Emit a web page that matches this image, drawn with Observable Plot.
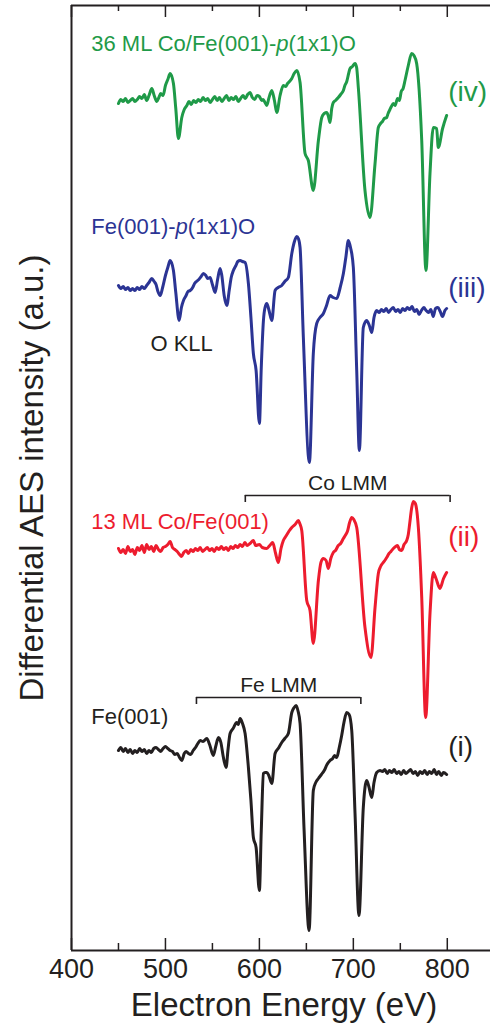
<!DOCTYPE html>
<html><head><meta charset="utf-8">
<script src="https://cdn.jsdelivr.net/npm/d3@7"></script>
<script src="https://cdn.jsdelivr.net/npm/@observablehq/plot@0.6"></script>
<style>body{margin:0;background:#fff;} #chart svg{display:block;}</style>
</head><body><div id="chart"></div>
<script>
// ---- data ----
const seriesIds = ["i", "ii", "iii", "iv"];
const seriesNames = ["Fe(001)", "13 ML Co/Fe(001)", "Fe(001)-p(1x1)O", "36 ML Co/Fe(001)-p(1x1)O"];
const seriesTags = ["(i)", "(ii)", "(iii)", "(iv)"];
const seriesOffsets = [200, 402, 663, 847]; // vertical offsets (a.u.)

// [energy (eV), dN/dE (a.u., relative to offset)]
const spectrumI = [[450,0],[452.5,3],[455,-1],[457.5,2],[460,-2],[462.5,1],[465,-3],[467.5,0],[470,-2],[472.5,2],[475,-1],[477.5,1],[480,-3],[482.5,0],[485,-2],[487.5,2],[490,3],[492.5,1],[495,-1],[497.5,2],[500,4],[502.5,2],[505,0],[507.5,-1],[510,-4],[512.5,-3],[515,-7],[517.4,-10],[520,-3],[522,-1],[524.5,-3],[527,-4],[529.5,0],[532,3],[534.5,7],[537,10],[540,9],[544,12],[547,6],[551,-5],[553.5,4],[556.4,13],[559,8],[561.5,-6],[564.6,-17],[566.5,0],[568.8,17],[572,22],[575.9,28],[577.5,26],[579.5,32],[582,27],[584.8,17],[588.3,-17],[591,-50],[593.6,-87],[596.5,-97],[600,-140],[602,-80],[604.3,-23],[606,-22],[607.9,-22],[610,-25],[613.2,-33],[616.7,-3],[620,2],[623.8,8],[627,12],[630.8,17],[634.5,38],[637,43],[639.1,45],[641,40],[643.3,27],[647.6,-80],[652.9,-180],[657.4,-40],[660,-32],[662.8,-28],[666,-24],[669,-20],[672,-14],[675.2,-10],[678,-8],[680,-5],[682.3,-7],[685,3],[687.6,15],[690,28],[692.9,38],[695.5,36],[698.3,20],[701.8,-63],[706,-165],[710.6,-57],[714.2,-30],[716.5,-36],[719.6,-47],[722,-32],[724.9,-22],[728.4,-20],[731,-21],[733.5,-19],[736,-23],[738.5,-20],[741,-22],[743.5,-19],[746,-23],[748.5,-21],[751,-24],[753.5,-20],[756,-23],[758.5,-21],[761,-19],[763.5,-23],[766,-21],[768.5,-25],[771,-21],[773.5,-23],[776,-20],[778.5,-24],[781,-21],[783.5,-23],[786,-19],[788.5,-24],[791,-21],[793.5,-25],[796,-22],[799.3,-24]];

const spectrumII = [[450,0],[452.5,-4],[455,-1],[457.5,-5],[460,2],[462.5,-3],[465,-1],[467.5,-6],[470,1],[472.5,-2],[475,3],[477.5,-4],[480,4],[482.5,-1],[485,2],[487.5,-3],[490,3],[492.5,-1],[495,-3],[497.5,1],[500,2],[502.5,4],[505,7],[507.5,1],[510,-1],[512.5,-3],[515,-6],[517,-8],[519.5,-4],[522,-2],[524.5,-5],[527,-1],[529.5,-3],[532,0],[534.5,-2],[537,1],[539.5,-3],[542,-1],[544.5,1],[547,-2],[549.5,0],[552,-3],[554.5,1],[557,-1],[559.5,2],[562,-1],[564.5,1],[567,-2],[569.5,2],[572,0],[574.5,3],[577,1],[579.5,4],[582,2],[584.5,6],[587,3],[590,5],[593.6,8],[596,3],[600,4],[603,1],[607.9,0],[611,3],[614.2,6],[617,-4],[620.2,-14],[623,0],[625.5,8],[628,12],[630,15],[632,18],[634.5,21],[638,24],[641.5,28],[643,25],[645.1,18],[650.4,-52],[653.9,-62],[657.4,-95],[662.8,-32],[665.5,-14],[668.1,-10],[671,-12],[673.4,-20],[676,-10],[678.7,-4],[681,-2],[684,3],[686.5,5],[689.4,10],[692,14],[694,18],[696,26],[698.3,31],[700.5,29],[703.6,21],[712.4,-79],[718.8,-109],[723.1,-59],[726.6,-25],[729,-18],[731,-15],[733.5,-12],[735.5,-9],[738,-5],[740,-3],[742.6,0],[745,2],[747,3],[749,-1],[751.5,-2],[754,4],[756.8,8],[758.5,14],[760,25],[762,40],[763.8,47],[766,45],[769.2,21],[772.8,-49],[777,-169],[781.6,-65],[785.1,-24],[788,-30],[792.2,-40],[796,-30],[799.3,-24]];

const spectrumIII = [[450,2],[452.5,-1],[455,1],[457.5,-2],[460,0],[462.5,-3],[465,-1],[467.5,-3],[470,0],[472.5,-2],[475,1],[477.5,-1],[480,2],[482.5,5],[485.5,9],[488,6],[490,3],[492,-4],[494.4,-8],[497,0],[500,12],[502.5,20],[505,27],[508.5,17],[511,-5],[514.6,-33],[517,-20],[519.2,-13],[522,-8],[524,-4],[526.3,-3],[529,0],[531,4],[533,6],[535.5,8],[538,11],[540.4,14],[543,12],[545,9],[547.5,10],[550,3],[552.9,-5],[555.5,8],[558.2,19],[560,12],[562.5,-8],[565.3,-18],[568,-2],[570,10],[572.3,17],[575,22],[577,26],[579.5,27],[582,26],[584.8,25],[588.3,4],[591,-30],[593.6,-66],[596.5,-83],[600,-136],[602,-80],[604.3,-33],[606,-20],[607.9,-16],[610,-22],[613.2,-33],[616.7,-3],[620,0],[623.8,2],[627,6],[630.8,10],[634.5,34],[637,45],[639.8,51],[641.5,49],[643.3,40],[646.8,-50],[653.2,-175],[657.4,-66],[661,-36],[664.5,-30],[668.1,-26],[671.5,-18],[675.2,-8],[678.5,-10],[682.3,-11],[686,0],[689.4,14],[692,30],[694.7,47],[697,40],[700,20],[703.6,-83],[706.4,-163],[710.6,-40],[714.2,-33],[717,-38],[719.6,-45],[722,-30],[724.9,-23],[727.5,-25],[730,-22],[732.5,-24],[735,-21],[737.5,-25],[740,-22],[742.5,-20],[745,-24],[747.5,-22],[750,-25],[752.5,-21],[755,-23],[757.5,-20],[760,-22],[762.5,-19],[765,-24],[767.5,-22],[770,-27],[772.5,-23],[775,-20],[777.5,-23],[780,-25],[782.5,-22],[785,-29],[787.5,-21],[790,-20],[792.5,-24],[795,-29],[797.5,-23],[799.3,-21]];

const spectrumIV = [[450,0],[452.5,4],[455,2],[457.5,5],[460,1],[462.5,3],[465,5],[467.5,2],[470,4],[472.5,7],[475,5],[477.5,9],[480,3],[482.5,8],[485.5,15],[488,8],[490.8,2],[493,6],[495,10],[497.5,8],[500,18],[502.5,24],[505,30],[508.5,20],[511,-5],[513.8,-35],[517.4,-14],[520,-6],[522.8,-2],[525,2],[527.5,-1],[530,3],[532.5,1],[535,4],[537.5,2],[540,6],[542.5,3],[545,5],[547.5,1],[550,4],[552.5,7],[555,3],[557.5,6],[560,2],[562.5,5],[565,8],[567.5,3],[570,6],[572.5,4],[575,7],[577.5,2],[580,5],[582.5,8],[585,5],[587.5,9],[590,11],[592.5,6],[595,4],[597.5,8],[600,7],[602.5,3],[604,4],[606,1],[607.9,-2],[610,5],[613.2,13],[616,3],[618.5,-9],[622,8],[625.5,18],[628,17],[630,20],[632,22],[634.5,25],[637,30],[639.8,33],[643.3,21],[648.6,-50],[652.1,-57],[657.4,-87],[662.8,-37],[666.4,-14],[669,-10],[671.7,-9],[673.5,-13],[675.2,-19],[677,-5],[678.7,1],[681,3],[684,6],[686.5,9],[689.4,13],[691,18],[693,22],[695,30],[696.5,35],[699,37],[701.8,40],[703.5,36],[705.3,16],[712.4,-87],[717.8,-114],[723.1,-60],[726.6,-24],[729,-20],[731,-18],[733,-15],[735.5,-14],[737,-10],[739,-6],[740.5,-3],[742.6,0],[744.5,-2],[747,5],[749,3],[751,12],[753,15],[755,23],[758.5,38],[762.1,50],[764.5,48],[767.4,40],[772.8,-37],[777.3,-167],[781.6,-70],[785.1,-24],[788.7,-25],[790.4,-44],[795,-25],[799.3,-12]];

const majorTicks = [400, 500, 600, 700, 800];
const tickLabels = ["400", "500", "600", "700", "800"];
const minorTicks = [450, 550, 650, 750];
const xTitle = "Electron Energy (eV)";
const yTitle = "Differential AES intensity (a.u.)";

const bracketNames = ["Co LMM", "Fe LMM"];
const bracketFrom = [585, 533];
const bracketTo = [803, 708];
const peakNote = "O KLL";

// ---- layout / style ----
const colors = ["#231f20", "#ed1c2e", "#2b3494", "#1f9a48"];
const nameY = [227, 422, 717, 900];
const tagY = [195, 405, 654, 850];
const bracketY = [455, 253];
const ink = "#231f20";
const font = "'Liberation Sans', Arial, Helvetica, sans-serif";

const spectra = [spectrumI, spectrumII, spectrumIII, spectrumIV];
const rows = seriesIds.flatMap((id, k) =>
  spectra[k].map(([e, v]) => ({series: id, E: e, I: seriesOffsets[k] + v})));

const names = seriesIds.map((id, k) => ({series: id, text: seriesNames[k], y: nameY[k]}));
const tags = seriesIds.map((id, k) => ({series: id, text: seriesTags[k], y: tagY[k]}));
const brackets = bracketNames.map((n, k) => ({name: n, x1: bracketFrom[k], x2: bracketTo[k], y: bracketY[k]}));

const chart = Plot.plot({
  width: 490,
  height: 1025,
  marginLeft: 71,
  marginRight: 0,
  marginTop: 5,
  marginBottom: 75,
  style: {fontFamily: font, background: "#fff", color: ink},
  x: {domain: [400, 846], axis: null},
  y: {domain: [0, 945], axis: null},
  color: {type: "ordinal", domain: seriesIds, range: colors},
  marks: [
    // frame
    Plot.ruleX([400], {stroke: ink, strokeWidth: 2}),
    Plot.ruleY([0, 945], {stroke: ink, strokeWidth: 2}),
    // ticks
    Plot.ruleX(majorTicks, {x: d => d, y1: 0, y2: 12, stroke: ink, strokeWidth: 1.5}),
    Plot.ruleX(majorTicks, {x: d => d, y1: 945, y2: 933, stroke: ink, strokeWidth: 1.5}),
    Plot.ruleX(minorTicks, {x: d => d, y1: 0, y2: 7, stroke: ink, strokeWidth: 1.5}),
    Plot.ruleX(minorTicks, {x: d => d, y1: 945, y2: 939, stroke: ink, strokeWidth: 1.5}),
    Plot.text(majorTicks, {x: d => d, frameAnchor: "bottom", text: (d, i) => tickLabels[i], lineAnchor: "top", dy: 8, fontSize: 27, fill: ink}),
    Plot.text([xTitle], {frameAnchor: "bottom", lineAnchor: "bottom", dy: 65, dx: 3, fontSize: 33, fill: ink}),
    Plot.text([yTitle], {frameAnchor: "left", rotate: -90, textAnchor: "middle", lineAnchor: "bottom", dx: -29, fontSize: 33, fill: ink}),
    // curves
    Plot.line(rows, {x: "E", y: "I", z: "series", stroke: "series", strokeWidth: 3, curve: "monotone-x", strokeLinejoin: "round"}),
    // series labels
    Plot.text(names, {x: 421, y: "y", text: "text", fill: "series", textAnchor: "start", lineAnchor: "bottom", fontSize: 22}),
    Plot.text(tags, {x: 801, y: "y", text: "text", fill: "series", textAnchor: "start", lineAnchor: "bottom", fontSize: 28}),
    // brackets
    Plot.ruleY(brackets, {x1: "x1", x2: "x2", y: "y", stroke: ink, strokeWidth: 1.6}),
    Plot.ruleX(brackets, {x: "x1", y1: "y", y2: d => d.y - 7, stroke: ink, strokeWidth: 1.6}),
    Plot.ruleX(brackets, {x: "x2", y1: "y", y2: d => d.y - 7, stroke: ink, strokeWidth: 1.6}),
    Plot.text(brackets, {x: d => (d.x1 + d.x2) / 2, y: "y", text: "name", lineAnchor: "bottom", dy: -6, fontSize: 21, fill: ink}),
    Plot.text([peakNote], {x: 484, y: 600, textAnchor: "start", lineAnchor: "bottom", fontSize: 22, fill: ink})
  ]
});

// italic "p" in p(1x1)
d3.select(chart).selectAll("text").each(function() {
  const t = this.textContent;
  const k = t.indexOf("-p(");
  if (k >= 0 && this.childElementCount === 0) {
    const sel = d3.select(this);
    sel.text(null);
    sel.append("tspan").text(t.slice(0, k + 1));
    sel.append("tspan").attr("font-style", "italic").text("p");
    sel.append("tspan").text(t.slice(k + 2));
  }
});

document.getElementById("chart").append(chart);
</script>
</body></html>
